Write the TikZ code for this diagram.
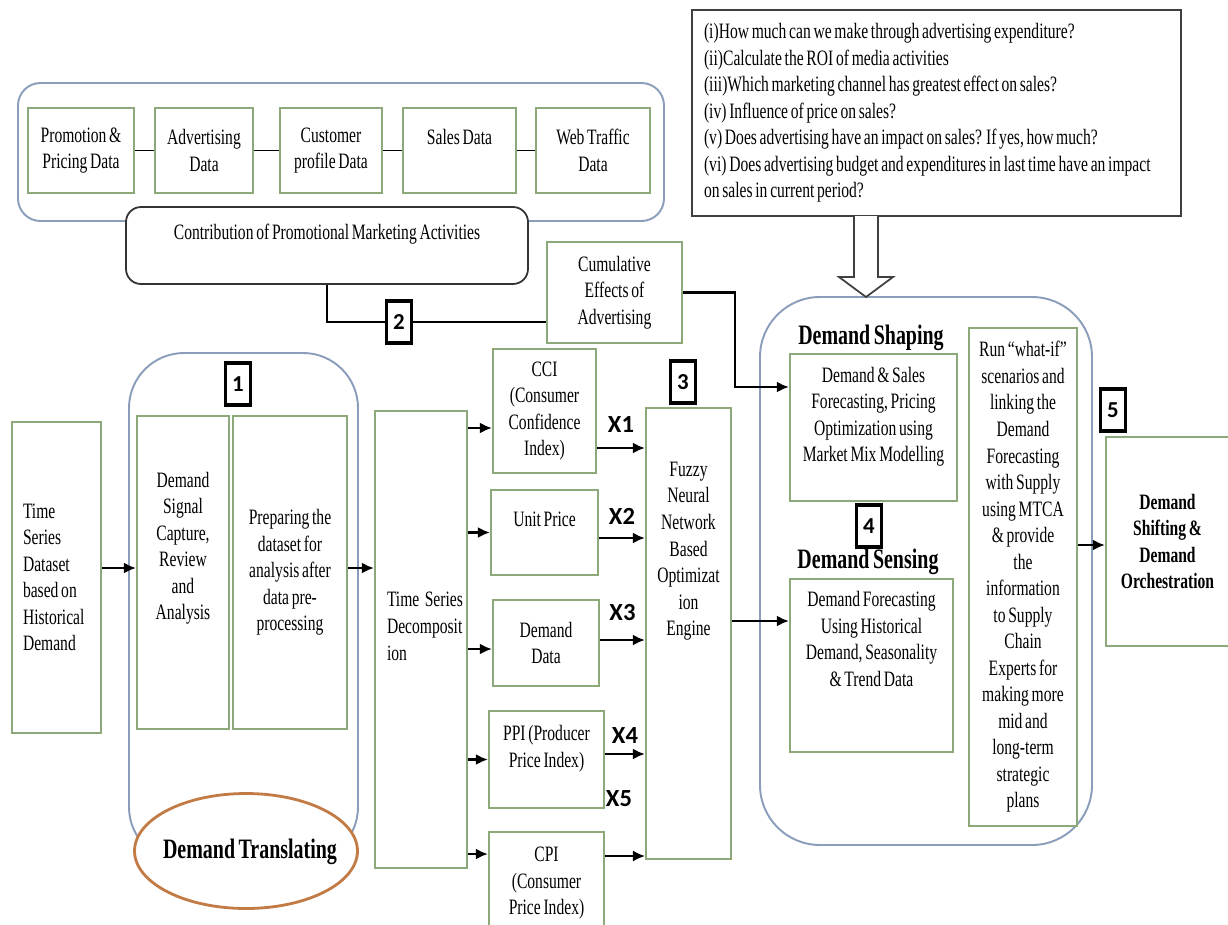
\documentclass[tikz,border=0pt]{standalone}
\usepackage{fontspec}
\setmainfont{Liberation Serif}[FakeStretch=0.71, WordSpace=0.7]
\newfontfamily\labelfont{Carlito}
\usetikzlibrary{arrows.meta,shapes.geometric}

\definecolor{boxgreen}{HTML}{8DA97A}
\definecolor{framegray}{HTML}{8A9DBB}
\definecolor{ovalbrown}{HTML}{C27B45}

\newcommand{\txtsize}{\fontsize{12.5pt}{15.1pt}\selectfont}
\newcommand{\gap}{\\\mbox{}}

\begin{document}
\begin{tikzpicture}[x=0.02cm, y=-0.02cm, font=\txtsize,
  area/.style n args={4}{minimum width={(#3-#1)*0.02cm}, minimum height={(#4-#2)*0.02cm}, at={({(#1+#3)/2},{(#2+#4)/2})}},
  gbox/.style={draw=boxgreen, line width=1.3pt, fill=white, inner sep=2pt, align=center},
  frame/.style={draw=framegray, line width=1.1pt},
  numbox/.style={draw, line width=2pt, fill=white, minimum width=0.5cm, minimum height=0.84cm, inner sep=0pt, font=\labelfont\bfseries\fontsize{13pt}{13pt}\selectfont},
  xlab/.style={font=\labelfont\bfseries\fontsize{14pt}{14pt}\selectfont},
  title/.style={font=\bfseries\fontsize{16pt}{18pt}\selectfont},
  arrow/.style={-{Latex[length=2.4mm,width=2.2mm]}, line width=1.2pt},
  link/.style={line width=1pt}]

\useasboundingbox (0,0) rectangle (1228,924);
\clip (0,0) rectangle (1228,924);

% grouping frames
\node[frame, rounded corners=0.45cm, area={18}{83}{664}{221}] (dataframe) {};
\node[frame, rounded corners=1.1cm, area={129}{353}{358}{862}] (translateframe) {};
\node[frame, rounded corners=1.2cm, area={760}{297}{1092}{845}] (shapeframe) {};

% marketing data sources
\node[gbox, area={28}{108}{134}{193}] (promo) {Promotion \&\\Pricing Data};
\node[gbox, area={155}{108}{253}{193}] (advert) {Advertising\\Data};
\node[gbox, area={280}{108}{382}{193}] (customer) {Customer\\profile Data};
\node[gbox, area={403}{108}{516}{193}] (sales) {Sales Data\gap};
\node[gbox, area={536}{108}{650}{193}] (webtraffic) {Web Traffic\\Data};
\draw[link] (promo) -- (advert) -- (customer) -- (sales) -- (webtraffic);

\node[draw=black!80, line width=1pt, fill=white, rounded corners=0.3cm, align=center, area={126}{207}{528}{284}] (contrib) {Contribution of Promotional Marketing Activities\gap};
\node[gbox, area={547}{242}{682}{343}] (cumulative) {Cumulative\\Effects of\\Advertising};
\node[numbox] (num2) at (399,322) {2};
\draw[link] (contrib.south) |- (num2.west);
\draw[link] (num2.east) -- (num2.east -| cumulative.west);

% questions
\node[draw=black!75, line width=1pt, align=flush left, text width=9.3cm, inner xsep=0.24cm, area={692}{10}{1181}{216}] (questions) {(i)How much can we make through advertising expenditure?\\(ii)Calculate the ROI of media activities\\(iii)Which marketing channel has greatest effect on sales?\\(iv) Influence of price on sales?\\(v) Does advertising have an impact on sales? If yes, how much?\\(vi) Does advertising budget and expenditures in last time have an impact\\on sales in current period?};
\draw[draw=black!75, line width=1pt, fill=white] (854,216) -- (854,277) -- (839,277) -- (866,297) -- (893,277) -- (878,277) -- (878,216);

% demand translating
\node[gbox, align=flush left, text width=1.34cm, inner xsep=0.22cm, area={12}{422}{101}{733}] (dataset) {Time\\Series\\Dataset\\based on\\Historical\\Demand};
\node[gbox, area={137}{416}{229}{729}] (signal) {Demand\\Signal\\Capture,\\Review\\and\\Analysis\gap\gap};
\node[gbox, area={233}{416}{347}{729}] (prepare) {Preparing the\\dataset for\\analysis after\\data pre-\\processing};
\node[numbox] (num1) at (238,384) {1};
\node[draw=ovalbrown, line width=1.6pt, fill=white, ellipse, minimum width=4.46cm, minimum height=2.3cm, inner sep=0pt] (translating) at (246,851) {};
\node[title] (translatingtitle) at (250,852) {Demand Translating};

% decomposition and inputs
\node[gbox, align=flush left, text width=1.36cm, inner xsep=0.24cm, area={375}{411}{467}{868}] (decomp) {\mbox{Time\ \ Series}\\Decomposit\\ion\gap};
\node[gbox, area={493}{349}{596}{473}] (cci) {CCI\\(Consumer\\Confidence\\Index)};
\node[gbox, area={491}{490}{598}{575}] (unitprice) {Unit Price\gap};
\node[gbox, area={493}{600}{599}{686}] (demanddata) {Demand\\Data};
\node[gbox, area={489}{711}{604}{808}] (ppi) {PPI (Producer\\Price Index)\gap};
\node[gbox, area={489}{832}{604}{935}] (cpi) {CPI\\(Consumer\\Price Index)};

\draw[arrow] ([yshift=0.19cm]dataset.east) -- ([yshift=0.19cm]dataset.east -| signal.west);
\draw[arrow] ([yshift=0.09cm]prepare.east) -- ([yshift=0.09cm]prepare.east -| decomp.west);

\draw[arrow] ([yshift=-0.34cm]cci.west -| decomp.east) -- ([yshift=-0.34cm]cci.west);
\draw[arrow] (unitprice.west -| decomp.east) -- (unitprice.west);
\draw[arrow] ([yshift=-0.12cm]demanddata.west -| decomp.east) -- ([yshift=-0.12cm]demanddata.west);
\draw[arrow] (ppi.west -| decomp.east) -- (ppi.west);
\draw[arrow] ([yshift=0.59cm]cpi.west -| decomp.east) -- ([yshift=0.59cm]cpi.west);

% optimisation engine
\node[gbox, area={646}{408}{731}{859}] (fuzzy) {};
\node[anchor=north, align=center] (fuzzytext) at ([yshift=-0.98cm]fuzzy.north) {Fuzzy\\Neural\\Network\\Based\\Optimizat\\ion\\Engine};
\node[numbox] (num3) at (683,382) {3};

\draw[arrow] ([yshift=-0.74cm]cci.east) -- ([yshift=-0.74cm]cci.east -| fuzzy.west) node[midway, above=5pt, xlab] {X1};
\draw[arrow] ([yshift=-0.11cm]unitprice.east) -- ([yshift=-0.11cm]unitprice.east -| fuzzy.west) node[midway, above=4pt, xlab] {X2};
\draw[arrow] ([yshift=0.06cm]demanddata.east) -- ([yshift=0.06cm]demanddata.east -| fuzzy.west) node[midway, above=7pt, xlab] {X3};
\draw[arrow] ([yshift=0.11cm]ppi.east) -- ([yshift=0.11cm]ppi.east -| fuzzy.west) node[midway, above=2pt, xlab] {X4};
\node[xlab] (x5) at (619,799) {X5};
\draw[arrow, line width=0.7pt] ([yshift=0.55cm]cpi.east) -- ([yshift=0.55cm]cpi.east -| fuzzy.west);

% demand shaping and sensing
\node[gbox, area={790}{354}{957}{501}] (shaping) {Demand \& Sales\\Forecasting, Pricing\\Optimization using\\Market Mix Modelling\gap};
\node[title] (shapingtitle) at (871,338) {Demand Shaping};
\node[numbox] (num4) at (869,526) {4};
\node[gbox, area={790}{579}{953}{752}] (sensing) {Demand Forecasting\\Using Historical\\Demand, Seasonality\\\& Trend Data\gap\gap};
\node[title] (sensingtitle) at (868,562) {Demand Sensing};
\node[gbox, area={969}{328}{1077}{826}] (whatif) {Run “what-if”\\scenarios and\\linking the\\Demand\\Forecasting\\with Supply\\using MTCA\\\& provide\\the\\information\\to Supply\\Chain\\Experts for\\making more\\mid and\\long-term\\strategic\\plans};
\node[numbox] (num5) at (1113,410) {5};
\node[gbox, font=\txtsize\bfseries, area={1106}{437}{1229}{646}] (orchestration) {Demand\\Shifting \&\\Demand\\Orchestration};

\coordinate (cumbend) at (735,387);
\draw[arrow] (cumulative.east) -| (cumbend) -- (cumbend -| shaping.west);
\draw[arrow] ([yshift=0.25cm]fuzzy.east) -- ([yshift=0.25cm]fuzzy.east -| sensing.west);
\draw[arrow] ([yshift=0.64cm]whatif.east) -- ([yshift=0.64cm]whatif.east -| orchestration.west);
\end{tikzpicture}
\end{document}
